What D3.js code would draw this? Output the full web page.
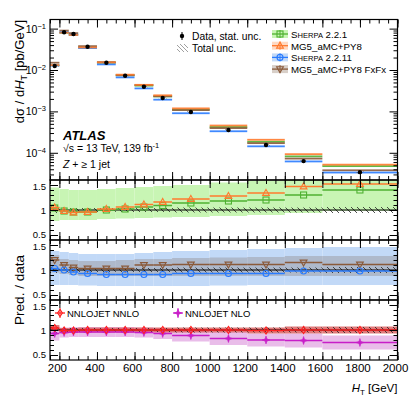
<!DOCTYPE html>
<html>
<head>
<meta charset="utf-8">
<script src="https://cdn.jsdelivr.net/npm/d3@7"></script>
<style>
body { margin: 0; background: #fff; }
svg { font-family: "Liberation Sans", Arial, sans-serif; }
</style>
</head>
<body>
<svg width="415" height="399"></svg>
<script>
// HT bins [GeV]
const binLo = [150, 200, 250, 300, 400, 500, 600, 700, 800, 1000, 1200, 1400, 1600]
const binHi = [200, 250, 300, 400, 500, 600, 700, 800, 1000, 1200, 1400, 1600, 2000]

// measured dsigma/dHT [pb/GeV]
const xsec = [0.0125, 0.0814, 0.074, 0.0366, 0.015, 0.00728, 0.00395, 0.00211, 0.00097, 0.000356, 0.000154, 0.000063, 0.000034]
const totUnc = [0.06, 0.05, 0.04, 0.04, 0.04, 0.04, 0.04, 0.04, 0.05, 0.05, 0.05, 0.05, 0.06]

// predictions / data
const sherpa221 = [1.04, 0.98, 0.96, 0.96, 1.0, 1.02, 1.06, 1.09, 1.14, 1.18, 1.2, 1.3, 1.4]
const sherpa221Lo = [0.78, 0.8, 0.8, 0.8, 0.82, 0.83, 0.84, 0.85, 0.86, 0.88, 0.9, 0.94, 0.98]
const sherpa221Hi = [1.45, 1.42, 1.4, 1.4, 1.42, 1.44, 1.46, 1.48, 1.5, 1.55, 1.58, 1.65, 1.7]
const mg5 = [1.05, 0.98, 0.95, 0.96, 1.02, 1.06, 1.11, 1.16, 1.22, 1.28, 1.34, 1.47, 1.52]

const sherpa2211 = [1.03, 1.0, 0.96, 0.93, 0.91, 0.91, 0.91, 0.91, 0.93, 0.93, 0.93, 0.98, 0.98]
const sherpa2211Lo = [0.7, 0.7, 0.7, 0.69, 0.68, 0.68, 0.68, 0.68, 0.68, 0.69, 0.7, 0.7, 0.7]
const sherpa2211Hi = [1.38, 1.36, 1.34, 1.32, 1.32, 1.32, 1.34, 1.36, 1.38, 1.4, 1.42, 1.44, 1.46]
const fxfx = [1.2, 1.1, 1.05, 1.03, 1.03, 1.03, 1.1, 1.1, 1.11, 1.11, 1.11, 1.15, 1.11]
const fxfxLo = [0.95, 0.92, 0.9, 0.88, 0.88, 0.88, 0.88, 0.88, 0.88, 0.88, 0.88, 0.88, 0.88]
const fxfxHi = [1.3, 1.22, 1.2, 1.18, 1.18, 1.2, 1.22, 1.22, 1.24, 1.25, 1.26, 1.28, 1.28]

const nnlo = [1.04, 0.99, 0.99, 1.0, 1.0, 1.0, 1.0, 1.0, 1.0, 1.0, 0.99, 1.0, 1.0]
const nnloErr = [0.06, 0.05, 0.05, 0.05, 0.05, 0.05, 0.05, 0.05, 0.05, 0.05, 0.06, 0.07, 0.07]
const nlo = [0.93, 0.95, 0.96, 0.96, 0.96, 0.96, 0.95, 0.93, 0.89, 0.83, 0.8, 0.79, 0.75]
const nloErr = [0.14, 0.1, 0.1, 0.1, 0.1, 0.1, 0.1, 0.11, 0.12, 0.13, 0.13, 0.14, 0.14]

const xMajor = [200, 400, 600, 800, 1000, 1200, 1400, 1600, 1800, 2000]
const ratioLabels = [0.5, 1, 1.5]

const bins = binLo.map((lo, i) => ({lo: lo, hi: binHi[i], c: (lo + binHi[i]) / 2, i: i}))

const svg = d3.select("svg")

const x = d3.scaleLinear().domain([150, 2000]).range([50, 397.5])
const left = 50, right = 397.5
const mainT = 19.5, mainB = 180
const yMain = d3.scaleLog().domain([2.2e-5, 0.166]).range([mainB, mainT])
const panels = [180, 240, 300, 360]
const yR = panels.slice(0, 3).map(t => d3.scaleLinear().domain([0.4, 1.6]).range([t + 60, t]))

const cGreen = "#4fb132", cOrange = "#ff7a2e", cBlue = "#2a7cff", cBrown = "#8a5a3a"
const cRed = "#ff2020", cMag = "#c81ec8"

// hatch pattern
const defs = svg.append("defs")
defs.append("pattern")
  .attr("id", "hatch")
  .attr("patternUnits", "userSpaceOnUse")
  .attr("width", 6).attr("height", 6)
  .append("path")
  .attr("d", "M0,0 L6,6 M-1,5 L1,7 M5,-1 L7,1")
  .attr("stroke", "#222").attr("stroke-width", 0.8)
defs.append("pattern")
  .attr("id", "hatchGray")
  .attr("patternUnits", "userSpaceOnUse")
  .attr("width", 4).attr("height", 4)
  .append("path")
  .attr("d", "M0,0 L4,4 M-1,3 L1,5 M3,-1 L5,1")
  .attr("stroke", "#777").attr("stroke-width", 0.7)

const clip = (id, t, b) => defs.append("clipPath").attr("id", id)
  .append("rect").attr("x", left).attr("y", t).attr("width", right - left).attr("height", b - t)
clip("cMain", mainT, mainB)
yR.forEach((s, k) => clip("cR" + k, panels[k], panels[k + 1]))

function marker(g, type, cx, cy, color) {
  if (type == "square") {
    g.append("rect").attr("x", cx - 3).attr("y", cy - 3).attr("width", 6).attr("height", 6)
      .attr("fill", "none").attr("stroke", color).attr("stroke-width", 1.1)
  } else if (type == "circle") {
    g.append("circle").attr("cx", cx).attr("cy", cy).attr("r", 3)
      .attr("fill", "none").attr("stroke", color).attr("stroke-width", 1.1)
  } else if (type == "up") {
    g.append("path").attr("d", `M${cx},${cy - 3.6}L${cx + 3.4},${cy + 2.4}L${cx - 3.4},${cy + 2.4}Z`)
      .attr("fill", "none").attr("stroke", color).attr("stroke-width", 1.1)
  } else if (type == "down") {
    g.append("path").attr("d", `M${cx},${cy + 3.6}L${cx + 3.4},${cy - 2.4}L${cx - 3.4},${cy - 2.4}Z`)
      .attr("fill", "none").attr("stroke", color).attr("stroke-width", 1.1)
  } else if (type == "diamond") {
    g.append("path").attr("d", `M${cx},${cy - 3.6}L${cx + 2.4},${cy}L${cx},${cy + 3.6}L${cx - 2.4},${cy}Z`)
      .attr("fill", "none").attr("stroke", color).attr("stroke-width", 1.1)
  } else if (type == "star") {
    g.append("path").attr("d", `M${cx},${cy - 4}L${cx + 1},${cy - 1}L${cx + 4},${cy}L${cx + 1},${cy + 1}L${cx},${cy + 4}L${cx - 1},${cy + 1}L${cx - 4},${cy}L${cx - 1},${cy - 1}Z`)
      .attr("fill", color).attr("stroke", color).attr("stroke-width", 0.6)
  } else if (type == "data") {
    g.append("circle").attr("cx", cx).attr("cy", cy).attr("r", 2.2).attr("fill", "#000")
  }
}

// ---------- main panel ----------
const gMain = svg.append("g").attr("clip-path", "url(#cMain)")

const mainPreds = [
  {vals: sherpa221, color: cGreen},
  {vals: fxfx, color: cBrown},
  {vals: sherpa2211, color: cBlue},
  {vals: mg5, color: cOrange}
]
mainPreds.forEach(p => {
  gMain.selectAll(null)
    .data(bins)
    .enter()
    .append("rect")
    .attr("x", d => x(d.lo))
    .attr("width", d => x(d.hi) - x(d.lo))
    .attr("y", d => yMain(xsec[d.i] * p.vals[d.i]) - 0.9)
    .attr("height", 1.8)
    .attr("fill", p.color)
    .attr("opacity", 0.9)
})

gMain.selectAll("rect.unc")
  .data(bins)
  .enter()
  .append("rect")
  .attr("class", "unc")
  .attr("x", d => x(d.c) - 4)
  .attr("width", 8)
  .attr("y", d => yMain(xsec[d.i] * (1 + totUnc[d.i])))
  .attr("height", d => yMain(xsec[d.i] * (1 - totUnc[d.i])) - yMain(xsec[d.i] * (1 + totUnc[d.i])))
  .attr("fill", "url(#hatchGray)")

bins.forEach(d => marker(gMain, "data", x(d.c), yMain(xsec[d.i]), "#000"))

// ---------- ratio panels ----------
function bandRects(g, ys, lo, hi, fill, op) {
  g.append("g").selectAll("rect")
    .data(bins)
    .enter()
    .append("rect")
    .attr("x", d => x(d.lo))
    .attr("width", d => x(d.hi) - x(d.lo))
    .attr("y", d => ys(hi[d.i]))
    .attr("height", d => ys(lo[d.i]) - ys(hi[d.i]))
    .attr("fill", fill)
    .attr("opacity", op)
}

function dataBand(g, ys) {
  bandRects(g, ys, totUnc.map(u => 1 - u), totUnc.map(u => 1 + u), "url(#hatch)", 1)
  g.append("line")
    .attr("x1", left).attr("x2", right)
    .attr("y1", ys(1)).attr("y2", ys(1))
    .attr("stroke", "#000").attr("stroke-width", 1.2)
}

function predLine(g, ys, vals, color, type) {
  g.append("g").selectAll("line")
    .data(bins)
    .enter()
    .append("line")
    .attr("x1", d => x(d.lo)).attr("x2", d => x(d.hi))
    .attr("y1", d => ys(vals[d.i])).attr("y2", d => ys(vals[d.i]))
    .attr("stroke", color).attr("stroke-width", 1.3)
  bins.forEach(d => marker(g, type, x(d.c), ys(vals[d.i]), color))
}

// panel 1
const g1 = svg.append("g").attr("clip-path", "url(#cR0)")
bandRects(g1, yR[0], sherpa221Lo, sherpa221Hi, "#c8f5b4", 1)
dataBand(g1, yR[0])
predLine(g1, yR[0], sherpa221, cGreen, "square")
predLine(g1, yR[0], mg5, cOrange, "up")

// panel 2
const g2 = svg.append("g").attr("clip-path", "url(#cR1)")
bandRects(g2, yR[1], sherpa2211Lo, sherpa2211Hi, "#c2d9f7", 1)
bandRects(g2, yR[1], fxfxLo, fxfxHi, "#9f9fa8", 0.55)
dataBand(g2, yR[1])
predLine(g2, yR[1], fxfx, cBrown, "down")
predLine(g2, yR[1], sherpa2211, cBlue, "circle")

// panel 3
const g3 = svg.append("g").attr("clip-path", "url(#cR2)")
bandRects(g3, yR[2], nlo.map((v, i) => v - nloErr[i]), nlo.map((v, i) => v + nloErr[i]), "#e9bde9", 1)
bandRects(g3, yR[2], nnlo.map((v, i) => v - nnloErr[i]), nnlo.map((v, i) => v + nnloErr[i]), "#d95a5a", 0.8)
dataBand(g3, yR[2])
predLine(g3, yR[2], nlo, cMag, "star")
predLine(g3, yR[2], nnlo, cRed, "diamond")

// ---------- axes / frames ----------
const xMinor = d3.range(150, 2001, 50)
function xAxes(top, bottom) {
  [[top, 1], [bottom, -1]].forEach(([yy, dir]) => {
    const ax = dir > 0 ? d3.axisTop(x) : d3.axisBottom(x)
    svg.append("g").attr("transform", `translate(0,${yy})`)
      .call(ax.tickValues(xMinor).tickSize(-4).tickFormat(""))
      .call(g => g.select(".domain").remove())
    svg.append("g").attr("transform", `translate(0,${yy})`)
      .call((dir > 0 ? d3.axisTop(x) : d3.axisBottom(x)).tickValues(xMajor).tickSize(-8).tickFormat(""))
      .call(g => g.select(".domain").remove())
  })
}

function yAxes(ys, major, minor) {
  [[left, d3.axisLeft], [right, d3.axisRight]].forEach(([xx, fn]) => {
    svg.append("g").attr("transform", `translate(${xx},0)`)
      .call(fn(ys).tickValues(minor).tickSize(-4).tickFormat(""))
      .call(g => g.select(".domain").remove())
    svg.append("g").attr("transform", `translate(${xx},0)`)
      .call(fn(ys).tickValues(major).tickSize(-8).tickFormat(""))
      .call(g => g.select(".domain").remove())
  })
}

xAxes(mainT, mainB)
const logMajor = [1e-4, 1e-3, 1e-2, 1e-1]
const logMinor = []
d3.range(-5, 0).forEach(e => d3.range(2, 10).forEach(k => {
  const v = k * Math.pow(10, e)
  if (v > 2.2e-5 && v < 0.166) logMinor.push(v)
}))
yAxes(yMain, logMajor, logMinor)

yR.forEach((s, k) => {
  xAxes(panels[k], panels[k + 1])
  yAxes(s, ratioLabels, [0.5, 0.6, 0.7, 0.8, 0.9, 1.1, 1.2, 1.3, 1.4, 1.5])
})

svg.append("rect").attr("x", left).attr("y", mainT).attr("width", right - left).attr("height", mainB - mainT)
  .attr("fill", "none").attr("stroke", "#000").attr("stroke-width", 1.2)
panels.slice(0, 3).forEach((t, k) => {
  svg.append("rect").attr("x", left).attr("y", t).attr("width", right - left).attr("height", 60)
    .attr("fill", "none").attr("stroke", "#000").attr("stroke-width", 1.2)
})

// tick labels
const fs = 10.5
const logLab = svg.append("g").selectAll("text")
  .data(logMajor)
  .enter()
  .append("text")
  .attr("x", 46)
  .attr("y", d => yMain(d) + 4)
  .attr("text-anchor", "end")
  .attr("font-size", fs)
logLab.append("tspan").text("10")
logLab.append("tspan").attr("dy", -4).attr("font-size", 7.5).text(d => "\u2212" + Math.round(-Math.log10(d)))

yR.forEach(s => {
  svg.append("g").selectAll("text")
    .data(ratioLabels)
    .enter()
    .append("text")
    .attr("x", 46)
    .attr("y", d => s(d) + (d == 0.5 ? 2.5 : d == 1.5 ? 4.5 : 3.5))
    .attr("text-anchor", "end")
    .attr("font-size", 9.5)
    .text(d => d)
})

svg.append("g").selectAll("text")
  .data(xMajor)
  .enter()
  .append("text")
  .attr("x", d => x(d) - 2)
  .attr("y", 372)
  .attr("text-anchor", "middle")
  .attr("font-size", fs + 1)
  .text(d => d)

// axis titles
const xt = svg.append("text").attr("x", right).attr("y", 392).attr("text-anchor", "end").attr("font-size", 11.5)
xt.append("tspan").attr("font-style", "italic").text("H")
xt.append("tspan").attr("font-size", 8).attr("dy", 2.5).text("T")
xt.append("tspan").attr("dy", -2.5).text(" [GeV]")

const yt = svg.append("text").attr("transform", "translate(24,20) rotate(-90)").attr("text-anchor", "end").attr("font-size", 13)
yt.append("tspan").text("d\u03c3 / d")
yt.append("tspan").attr("font-style", "italic").text("H")
yt.append("tspan").attr("font-size", 9).attr("dy", 3).text("T")
yt.append("tspan").attr("dy", -3).text(" [pb/GeV]")

svg.append("text").attr("transform", "translate(24,290) rotate(-90)").attr("text-anchor", "middle")
  .attr("font-size", 13.5).text("Pred. / data")

// ATLAS label
svg.append("text").attr("x", 63).attr("y", 140).attr("font-size", 13)
  .attr("font-weight", "bold").attr("font-style", "italic").text("ATLAS")
const lumi = svg.append("text").attr("x", 63).attr("y", 152).attr("font-size", fs)
lumi.append("tspan").text("\u221As = 13 TeV, 139 fb")
lumi.append("tspan").attr("dy", -4).attr("font-size", 7.5).text("-1")
const zl = svg.append("text").attr("x", 63).attr("y", 168).attr("font-size", fs)
zl.append("tspan").attr("font-style", "italic").text("Z")
zl.append("tspan").text(" + \u2265 1 jet")

// ---------- legends ----------
const lg = svg.append("g")
lg.append("line").attr("x1", 182).attr("x2", 182).attr("y1", 32).attr("y2", 40).attr("stroke", "#000")
marker(lg, "data", 182, 36, "#000")
lg.append("text").attr("x", 192).attr("y", 40).attr("font-size", 10.3).text("Data, stat. unc.")
lg.append("rect").attr("x", 177).attr("y", 44).attr("width", 11).attr("height", 8).attr("fill", "url(#hatchGray)")
lg.append("text").attr("x", 192).attr("y", 52).attr("font-size", 10.3).text("Total unc.")

const lfs = 9.7
const legItems = [
  {name: ["S", "HERPA", " 2.2.1"], color: cGreen, band: "#c8f5b4", type: "square"},
  {name: ["MG5_aMC+PY8"], color: cOrange, band: "#ffd9c2", type: "up"},
  {name: ["S", "HERPA", " 2.2.11"], color: cBlue, band: "#c2d9f7", type: "circle"},
  {name: ["MG5_aMC+PY8 FxFx"], color: cBrown, band: "#d8cfc8", type: "down"}
]
legItems.forEach((d, i) => {
  const yy = 34 + i * 11.7
  lg.append("rect").attr("x", 272).attr("y", yy - 4).attr("width", 16).attr("height", 8).attr("fill", d.band)
  lg.append("line").attr("x1", 272).attr("x2", 288).attr("y1", yy).attr("y2", yy).attr("stroke", d.color).attr("stroke-width", 1.3)
  lg.append("line").attr("x1", 280).attr("x2", 280).attr("y1", yy - 4).attr("y2", yy + 4).attr("stroke", d.color).attr("stroke-width", 1)
  marker(lg, d.type, 280, yy, d.color)
  const t = lg.append("text").attr("x", 291).attr("y", yy + 4).attr("font-size", lfs)
  if (d.name.length > 1) {
    t.append("tspan").text(d.name[0])
    t.append("tspan").attr("font-size", lfs * 0.78).text(d.name[1])
    t.append("tspan").text(d.name[2])
  } else {
    t.text(d.name[0])
  }
})

const ratioLeg = [
  {name: "NNLOJET NNLO", color: cRed, band: "#e07878", type: "diamond", x: 60},
  {name: "NNLOJET NLO", color: cMag, band: "#e9bde9", type: "star", x: 178}
]
ratioLeg.forEach(d => {
  lg.append("line").attr("x1", d.x - 5).attr("x2", d.x + 5).attr("y1", 313).attr("y2", 313).attr("stroke", d.color).attr("stroke-width", 1.3)
  lg.append("line").attr("x1", d.x).attr("x2", d.x).attr("y1", 308).attr("y2", 318).attr("stroke", d.color)
  marker(lg, d.type, d.x, 313, d.color)
  lg.append("text").attr("x", d.x + 7).attr("y", 317).attr("font-size", 9.5).text(d.name)
})
</script>
</body>
</html>
